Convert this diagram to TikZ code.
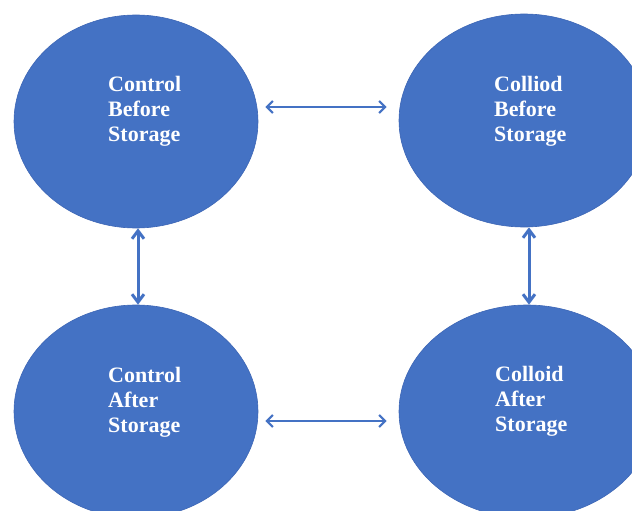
\documentclass[tikz,border=0pt]{standalone}
\usepackage{fontspec}
\setmainfont{Liberation Serif}
\usetikzlibrary{shapes.geometric,arrows.meta}
\definecolor{blob}{HTML}{4472C4}
\definecolor{blobedge}{HTML}{3D66B5}
\tikzset{
  blobnode/.style={ellipse, fill=blob, draw=blobedge, line width=0.6pt, inner sep=0pt},
  blobtext/.style={anchor=base west, inner sep=0pt, align=left, text=white,
    font=\fontsize{22}{25}\selectfont\bfseries},
  harrow/.style={draw=blob, line width=2.2pt, {Straight Barb[length=6pt,width=12pt]}-{Straight Barb[length=6pt,width=12pt]}},
  varrow/.style={draw=blob, line width=3pt, {Straight Barb[length=8pt,width=12pt]}-{Straight Barb[length=8pt,width=12pt]}}
}
\begin{document}
\begin{tikzpicture}[x=1pt,y=-1pt]
\useasboundingbox (0,0) rectangle (632,511);
\clip (0,0) rectangle (632,511);
\node[blobnode, minimum width=244pt, minimum height=213pt] (TL) at (136,121.5) {};
\node[blobnode, minimum width=250pt, minimum height=213pt] (TR) at (524,120.5) {};
\node[blobnode, minimum width=244pt, minimum height=213pt] (BL) at (136,411.5) {};
\node[blobnode, minimum width=256pt, minimum height=213pt] (BR) at (527,411.5) {};
\node[blobtext] (tTL) at (108,141.7) {Control\\Before\\Storage};
\node[blobtext] (tTR) at (494,141.7) {Colliod\\Before\\Storage};
\node[blobtext] (tBL) at (108,432.7) {Control\\After\\Storage};
\node[blobtext] (tBR) at (495,431.7) {Colloid\\After\\Storage};
\draw[harrow] ([xshift=7pt,yshift=14.5pt]TL.east) -- ([xshift=-12pt,yshift=13.5pt]TR.west);
\draw[harrow] ([xshift=7pt,yshift=-9.5pt]BL.east) -- ([xshift=-12pt,yshift=-9.5pt]BR.west);
\draw[varrow] ([xshift=2pt]TL.south) -- ([xshift=2pt]BL.north);
\draw[varrow] ([xshift=5pt]TR.south) -- ([xshift=2pt]BR.north);
\end{tikzpicture}
\end{document}
